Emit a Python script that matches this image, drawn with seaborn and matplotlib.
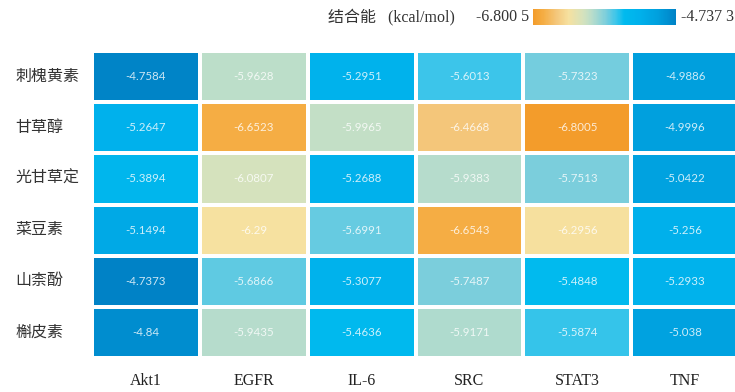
import numpy as np
import pandas as pd
import matplotlib
matplotlib.use("Agg")
import matplotlib.pyplot as plt
from matplotlib.colors import LinearSegmentedColormap
import seaborn as sns

compounds = ["刺槐黄素", "甘草醇", "光甘草定", "菜豆素", "山柰酚", "槲皮素"]
targets = ["Akt1", "EGFR", "IL-6", "SRC", "STAT3", "TNF"]

akt1 = [-4.7584, -5.2647, -5.3894, -5.1494, -4.7373, -4.84]
egfr = [-5.9628, -6.6523, -6.0807, -6.29, -5.6866, -5.9435]
il6 = [-5.2951, -5.9965, -5.2688, -5.6991, -5.3077, -5.4636]
src = [-5.6013, -6.4668, -5.9383, -6.6543, -5.7487, -5.9171]
stat3 = [-5.7323, -6.8005, -5.7513, -6.2956, -5.4848, -5.5874]
tnf = [-4.9886, -4.9996, -5.0422, -5.256, -5.2933, -5.038]

vmin_label = "-6.800 5"
vmax_label = "-4.737 3"

df = pd.DataFrame(
    {"Akt1": akt1, "EGFR": egfr, "IL-6": il6, "SRC": src, "STAT3": stat3, "TNF": tnf},
    index=compounds,
)[targets]

vmin, vmax = df.values.min(), df.values.max()

def pos(v):
    return (v - vmin) / (vmax - vmin)

stops = [
    (vmin, "#F39C2B"),
    (-6.65, "#F5AE45"),
    (-6.47, "#F4C67A"),
    (-6.29, "#F6E1A0"),
    (-6.08, "#D5E2BD"),
    (-5.95, "#B8DDCB"),
    (-5.75, "#7CCEDC"),
    (-5.60, "#3BC5EA"),
    (-5.48, "#00BAEE"),
    (-5.27, "#00B1EC"),
    (-5.00, "#00A0DE"),
    (vmax, "#0082C6"),
]
cmap = LinearSegmentedColormap.from_list("energy", [(pos(v), c) for v, c in stops])

sns.set_theme(style="white")
plt.rcParams["font.family"] = ["Liberation Serif", "Noto Sans CJK SC", "DejaVu Sans"]

fig = plt.figure(figsize=(7.35, 3.92), dpi=100)
ax = fig.add_axes([92 / 735, 1 - 358 / 392, 647 / 735, 307 / 392])
cax = fig.add_axes([533 / 735, 1 - 25 / 392, 143 / 735, 16 / 392])

sns.heatmap(
    df, ax=ax, cmap=cmap, vmin=vmin, vmax=vmax,
    linewidths=1.5, linecolor="white",
    annot=True, fmt="g",
    annot_kws={"fontsize": 8.3, "color": "white", "alpha": 0.8,
               "family": ["Lato", "DejaVu Sans"]},
    cbar_ax=cax, cbar_kws={"orientation": "horizontal", "ticks": []},
)

for spine in cax.spines.values():
    spine.set_visible(False)

ax.set_xlabel("")
ax.set_ylabel("")
ax.xaxis.tick_bottom()
ax.tick_params(axis="x", length=0, pad=11, labelsize=11.5, labelcolor="#222222")
ax.tick_params(axis="y", length=0, pad=55, labelsize=11.5, labelcolor="#333333")
plt.setp(ax.get_yticklabels(), rotation=0, ha="left")
plt.setp(ax.get_xticklabels(), rotation=0)

fig.text(455 / 735, 1 - 17 / 392, "结合能   (kcal/mol)", ha="right", va="center",
         fontsize=11.5, color="#333333")
fig.text(529 / 735, 1 - 17 / 392, vmin_label, ha="right", va="center",
         fontsize=11.5, color="#333333")
fig.text(681 / 735, 1 - 17 / 392, vmax_label, ha="left", va="center",
         fontsize=11.5, color="#333333")

fig.savefig("out.png", dpi=100)
